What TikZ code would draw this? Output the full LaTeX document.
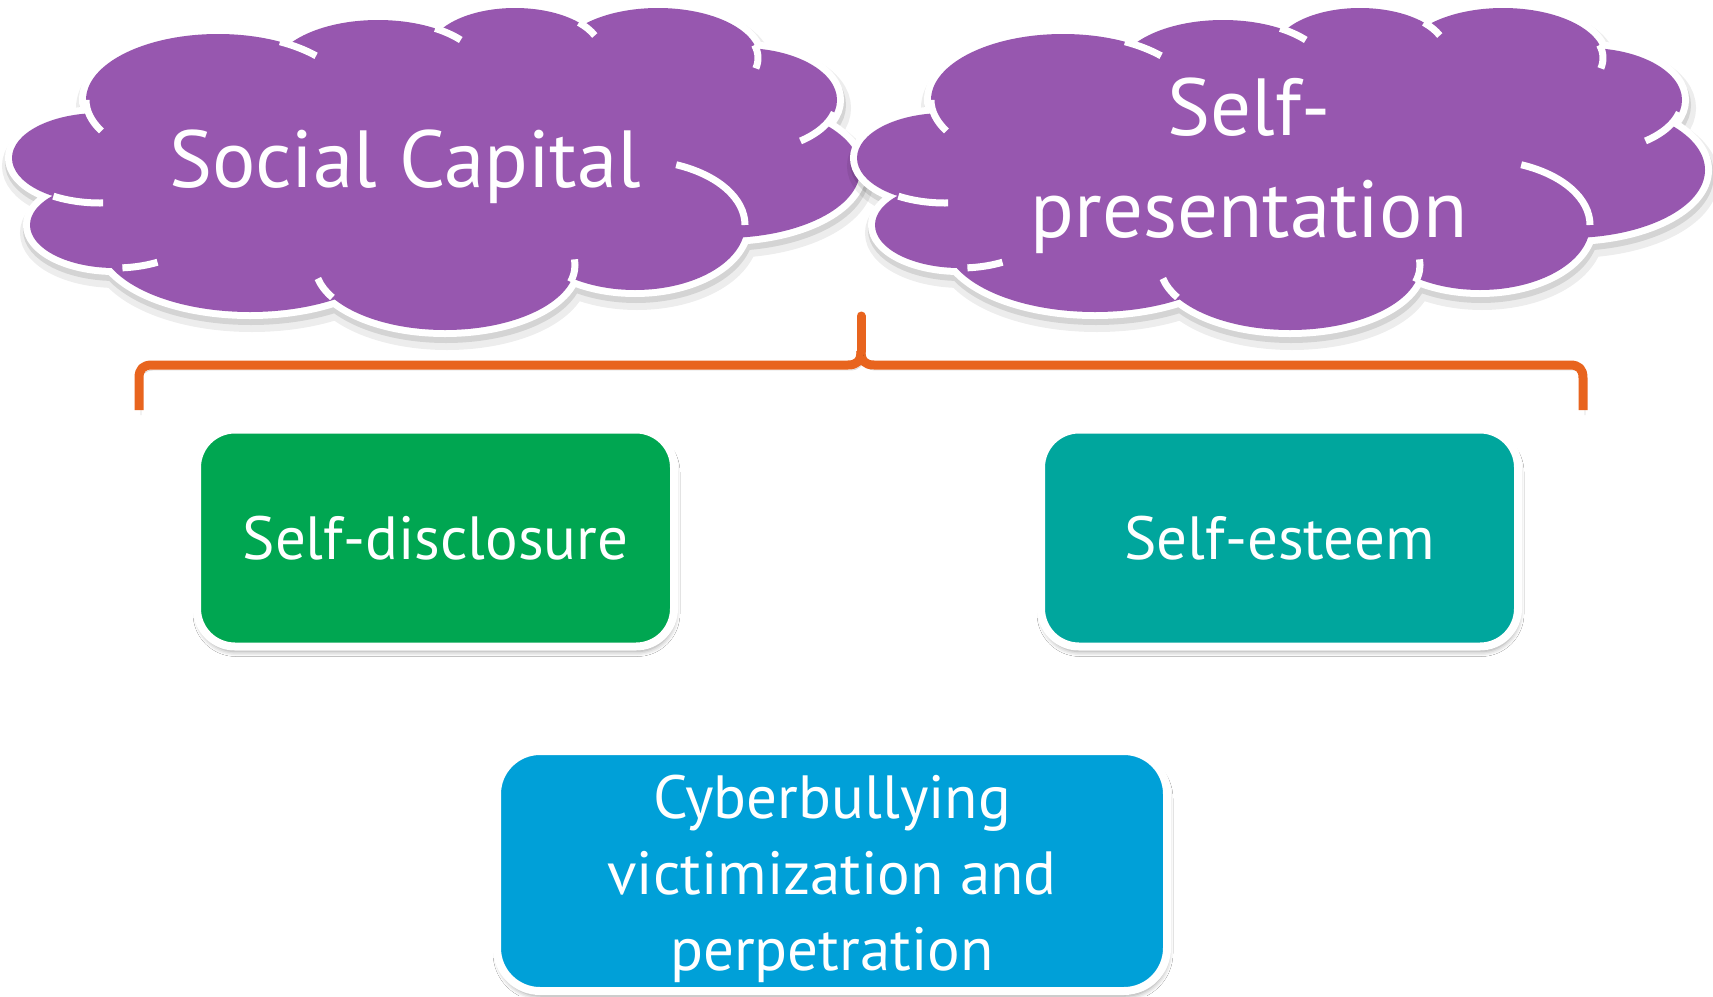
\documentclass[tikz,border=0pt]{standalone}
\usepackage{fontspec}
\setmainfont{PT Sans}
\usetikzlibrary{shadows.blur}

\definecolor{cloudpurple}{RGB}{151,87,175}
\definecolor{discgreen}{RGB}{0,166,81}
\definecolor{esteemteal}{RGB}{0,166,157}
\definecolor{cyberblue}{RGB}{0,160,216}
\definecolor{braceorange}{RGB}{232,100,30}

\tikzset{
  boxstyle/.style={draw=white, line width=4pt, rounded corners=19pt, text=white,
    font=\fontsize{30.5}{38}\selectfont, align=center,
    blur shadow={shadow xshift=0.5pt, shadow yshift=-2.5pt,
      shadow blur radius=2.5pt, shadow opacity=40}},
  boxtext/.style={text=white, font=\fontsize{30.5}{38}\selectfont,
    align=center, inner sep=0pt},
  cloudtext/.style={text=white, font=\fontsize{40.5}{51}\selectfont,
    align=center, inner sep=0pt},
  cloudarc/.style={white, line width=3.5pt},
  bracestyle/.style={braceorange, line width=4.5pt, line join=round,
    preaction={draw, black, opacity=0.15,
      transform canvas={xshift=1pt, yshift=-2.5pt}}},
}

% puffs of one cloud (image coordinates, y downwards)
\newcommand\cloudlobes{%
  (440,165) ellipse [x radius=330, y radius=110]
  (218,100) ellipse [x radius=132, y radius=66]
  (378,72) ellipse [x radius=105, y radius=52]
  (515,52) ellipse [x radius=86, y radius=44]
  (658,58) ellipse [x radius=100, y radius=50]
  (742,100) ellipse [x radius=95, y radius=52]
  (724,170) ellipse [x radius=136, y radius=68]
  (635,225) ellipse [x radius=110, y radius=65]
  (445,265) ellipse [x radius=130, y radius=65]
  (250,240) ellipse [x radius=150, y radius=72]
  (115,225) ellipse [x radius=85, y radius=43]
  (100,158) ellipse [x radius=88, y radius=45]}

\begin{document}
\begin{tikzpicture}[x=0.5pt,y=-0.5pt]
\useasboundingbox (0,0) rectangle (1713,996);
\fill[white] (0,0) rectangle (1713,996);

% clouds
\foreach \dx in {0,845}{
  \begin{scope}[shift={(\dx,0)}]
    \begin{scope}[shift={(2,8)}, transparency group, opacity=0.07]
      \filldraw[black, line width=12pt] \cloudlobes;
    \end{scope}
    \begin{scope}[shift={(1,5)}, transparency group, opacity=0.10]
      \filldraw[black, line width=8pt] \cloudlobes;
    \end{scope}
    \filldraw[white, line width=7pt] \cloudlobes;
    \fill[cloudpurple] \cloudlobes;
    % inner puff lines
    \foreach \cx/\cy/\rx/\ry/\a/\b in {218/100/132/66/180/152, 218/100/132/66/298/318,
        378/72/105/52/303/322, 515/52/86/44/318/338, 658/58/100/50/345/372,
        742/100/95/52/14/52, 635/225/110/65/292/360, 445/265/130/65/355/375,
        445/265/130/65/168/150, 115/225/85/43/85/60, 100/158/88/45/122/88}
      \draw[cloudarc] ({\cx+\rx*cos(\a)},{\cy+\ry*sin(\a)})
        arc[start angle=\a, end angle=\b, x radius=\rx, y radius=\ry];
  \end{scope}
}

\node[cloudtext, anchor=base] (social) at (405,187) {Social Capital};
\node[cloudtext, anchor=base] (selfpres) at (1249,237) {Self-\\presentation};

% brace
\coordinate (tip) at (861,316);
\draw[bracestyle] (139,410) -- (139,378) .. controls (139,369) and (143,365) .. (152,365)
  -- (848,365) .. controls (857,365) and (861,361) .. (861,351);
\draw[bracestyle] (1583,410) -- (1583,378) .. controls (1583,369) and (1579,365) .. (1570,365)
  -- (874,365) .. controls (865,365) and (861,361) .. (861,351);
\draw[bracestyle, line cap=round] (861,351) -- (tip);

% boxes
\node[boxstyle, fill=discgreen, minimum width=238.5pt, minimum height=108.5pt]
  (disclosure) at (435.5,538) {Self-disclosure};
\node[boxstyle, fill=esteemteal, minimum width=238.5pt, minimum height=108.5pt]
  (esteem) at (1279.5,538) {Self-esteem};
\node[boxstyle, fill=cyberblue, minimum width=335pt, minimum height=120pt,
  rounded corners=21.5pt] (cyber) at (832,871) {};
\node[boxtext, anchor=base] (cybertext) at (832,970)
  {Cyberbullying\\victimization and\\perpetration};
\end{tikzpicture}
\end{document}
